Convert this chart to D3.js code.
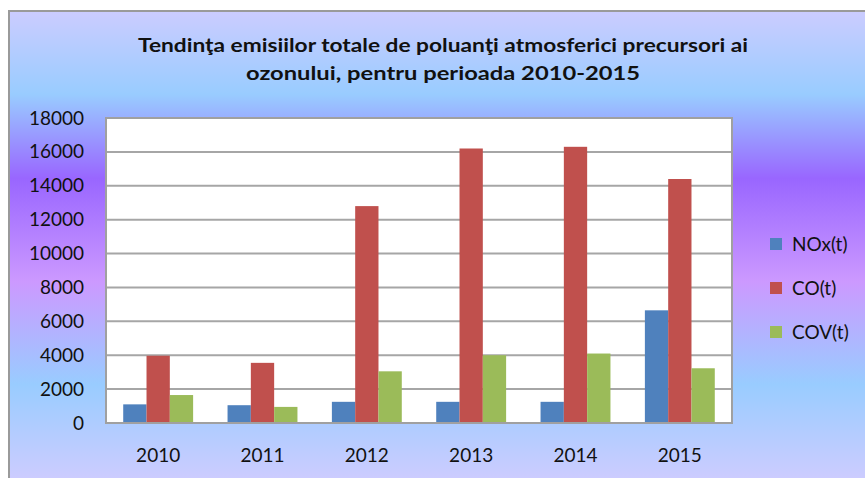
<!DOCTYPE html>
<html>
<head>
<meta charset="utf-8">
<script src="https://cdn.jsdelivr.net/npm/d3@7"></script>
<style>
  html, body { margin: 0; padding: 0; background: #fff; }
  svg { display: block; font-family: Lato, "Open Sans", sans-serif; }
</style>
</head>
<body>
<div id="chart"></div>
<script>
const years = ["2010", "2011", "2012", "2013", "2014", "2015"];
const seriesNames = ["NOx(t)", "CO(t)", "COV(t)"];
const nox = [1100, 1050, 1250, 1250, 1250, 6650];
const co = [3970, 3550, 12800, 16200, 16300, 14400];
const cov = [1650, 950, 3050, 4000, 4100, 3230];
const yTicks = [0, 2000, 4000, 6000, 8000, 10000, 12000, 14000, 16000, 18000];
const colors = ["#4F81BD", "#C0504D", "#9BBB59"];
const titleLines = [
  "Tendinţa emisiilor totale de poluanţi atmosferici  precursori ai",
  "ozonului, pentru perioada 2010-2015"
];
const titleWidths = [610, 394];

const width = 865, height = 478;
const plot = {left: 106, top: 118, right: 732, bottom: 423};
const series = [nox, co, cov];

const svg = d3.select("#chart").append("svg")
    .attr("width", width)
    .attr("height", height);

// Calm Water style background
const grad = svg.append("defs").append("linearGradient")
    .attr("id", "bg")
    .attr("x1", 0).attr("y1", 0).attr("x2", 0).attr("y2", 1);
[[0, "#CCCCFF"], [0.18, "#99CCFF"], [0.36, "#9966FF"], [0.58, "#CC99FF"], [0.8, "#99CCFF"], [1, "#CCCCFF"]]
  .forEach(s => grad.append("stop").attr("offset", s[0]).attr("stop-color", s[1]));

svg.append("rect")
    .attr("x", 8).attr("y", 10)
    .attr("width", width - 8).attr("height", height - 10)
    .attr("fill", "url(#bg)");
svg.append("path")
    .attr("d", `M9,${height} V11 H${width}`)
    .attr("fill", "none")
    .attr("stroke", "#9a9a9a")
    .attr("stroke-width", 2);

// title (text in the original is a bit stretched sideways)
svg.append("g").selectAll("text")
  .data(titleLines)
  .join("text")
    .attr("x", 443)
    .attr("y", (d, i) => 52 + i * 28)
    .attr("text-anchor", "middle")
    .attr("font-weight", "bold")
    .attr("font-size", 19)
    .attr("textLength", (d, i) => titleWidths[i])
    .attr("lengthAdjust", "spacingAndGlyphs")
    .attr("fill", "#111")
    .text(d => d);

const x0 = d3.scaleBand()
    .domain(years)
    .range([plot.left, plot.right])
    .paddingInner(0.33)
    .paddingOuter(0.165);

const x1 = d3.scaleBand()
    .domain(d3.range(series.length))
    .range([0, x0.bandwidth()]);

const y = d3.scaleLinear()
    .domain([0, 18000])
    .range([plot.bottom, plot.top]);

svg.append("rect")
    .attr("x", plot.left).attr("y", plot.top)
    .attr("width", plot.right - plot.left)
    .attr("height", plot.bottom - plot.top)
    .attr("fill", "#fff");

// gridlines
svg.append("g")
  .selectAll("line")
  .data(yTicks.slice(1))
  .join("line")
    .attr("x1", plot.left).attr("x2", plot.right)
    .attr("y1", d => y(d)).attr("y2", d => y(d))
    .attr("stroke", "#a6a6a6")
    .attr("stroke-width", 2);

// bars
svg.append("g")
  .selectAll("g")
  .data(years)
  .join("g")
    .attr("transform", d => `translate(${x0(d)},0)`)
  .selectAll("rect")
  .data((d, i) => series.map((s, k) => ({k: k, v: s[i]})))
  .join("rect")
    .attr("x", d => x1(d.k))
    .attr("y", d => y(d.v))
    .attr("width", x1.bandwidth())
    .attr("height", d => y(0) - y(d.v))
    .attr("fill", d => colors[d.k]);

// plot border
svg.append("rect")
    .attr("x", plot.left).attr("y", plot.top)
    .attr("width", plot.right - plot.left)
    .attr("height", plot.bottom - plot.top)
    .attr("fill", "none")
    .attr("stroke", "#a0a0a0")
    .attr("stroke-width", 2);

// y axis
const yAxis = svg.append("g")
    .attr("transform", `translate(${plot.left},0)`)
    .call(d3.axisLeft(y).tickValues(yTicks).tickSize(0).tickPadding(22).tickFormat(d3.format("d")));
yAxis.select(".domain").remove();
yAxis.selectAll("text")
    .attr("font-family", "Lato, sans-serif")
    .attr("font-size", 19)
    .attr("fill", "#111");

// x axis
const xAxis = svg.append("g")
    .attr("transform", `translate(0,${plot.bottom})`)
    .call(d3.axisBottom(x0).tickSize(0).tickPadding(26));
xAxis.select(".domain").remove();
xAxis.selectAll("text")
    .attr("font-family", "Lato, sans-serif")
    .attr("font-size", 19)
    .attr("fill", "#111");

// legend
const legend = svg.append("g")
  .selectAll("g")
  .data(seriesNames)
  .join("g")
    .attr("transform", (d, i) => `translate(770,${244 + i * 44})`);
legend.append("rect")
    .attr("x", 0).attr("y", -6)
    .attr("width", 12).attr("height", 12)
    .attr("fill", (d, i) => colors[i]);
legend.append("text")
    .attr("x", 22)
    .attr("dy", "0.35em")
    .attr("font-size", 19)
    .attr("fill", "#111")
    .text(d => d);
</script>
</body>
</html>
